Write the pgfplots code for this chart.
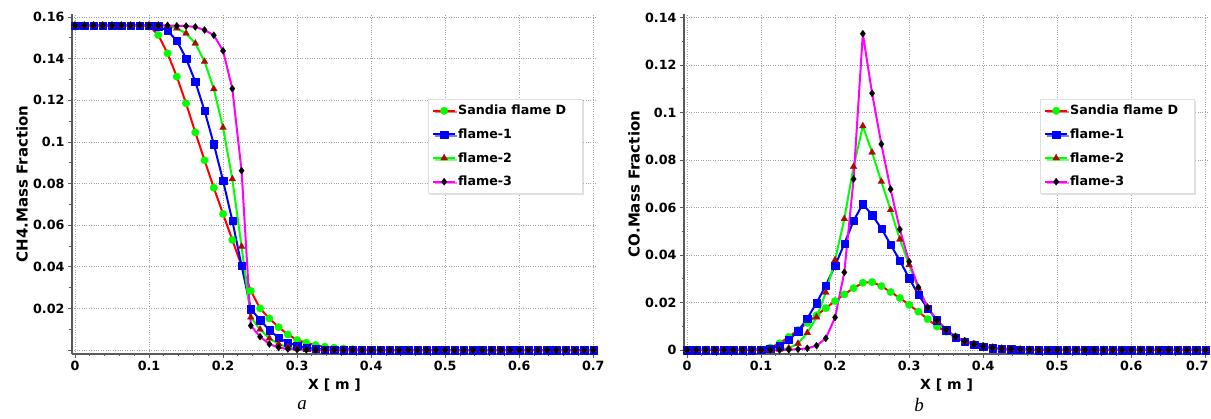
\documentclass[border=0pt]{standalone}
\usepackage{fontspec}
\setmainfont{DejaVu Sans}
\newfontfamily\capfont{Liberation Serif}
\usepackage{pgfplots}
\pgfplotsset{compat=1.18}
\usepackage{pgfplotstable}
\usetikzlibrary{shadows}

\definecolor{axgray}{RGB}{90,90,90}
\definecolor{gridgray}{RGB}{160,160,160}
\definecolor{cred}{RGB}{255,0,0}
\definecolor{cgreen}{RGB}{0,255,0}
\definecolor{cblue}{RGB}{0,0,255}
\definecolor{cmag}{RGB}{255,0,255}
\definecolor{ctri}{RGB}{170,10,10}

% CH4 mass fraction along the axis
\pgfplotstableread{
x      S       F1      F2      F3
0      0.156   0.156   0.156   0.156
0.0125 0.156   0.156   0.156   0.156
0.025  0.156   0.156   0.156   0.156
0.0375 0.156   0.156   0.156   0.156
0.05   0.156   0.156   0.156   0.156
0.0625 0.156   0.156   0.156   0.156
0.075  0.156   0.156   0.156   0.156
0.0875 0.156   0.156   0.156   0.156
0.1    0.156   0.156   0.156   0.156
0.1125 0.1514  0.1556  0.156   0.156
0.125  0.1426  0.1534  0.1558  0.156
0.1375 0.1314  0.1487  0.1546  0.1558
0.15   0.1186  0.1402  0.1522  0.1557
0.1625 0.1046  0.1290  0.1474  0.1553
0.175  0.0912  0.1150  0.1386  0.1538
0.1875 0.0780  0.0990  0.1255  0.1513
0.2    0.0654  0.0814  0.1069  0.1438
0.2125 0.0529  0.0622  0.0822  0.1256
0.225  0.0405  0.0405  0.0497  0.0862
0.2375 0.0284  0.0197  0.0157  0.0117
0.25   0.0200  0.0144  0.0099  0.0064
0.2625 0.0152  0.0096  0.0056  0.0029
0.275  0.0110  0.0059  0.0029  0.0012
0.2875 0.0075  0.0035  0.0014  0.0005
0.3    0.0048  0.0021  0.0007  0.0002
0.3125 0.0035  0.0011  0.0003  0.0001
0.325  0.0024  0.0006  0.0001  0
0.3375 0.0016  0.0003  0       0
0.35   0.0011  0.0001  0       0
0.3625 0.0007  0       0       0
0.375  0.0004  0       0       0
0.3875 0.0002  0       0       0
0.4    0.0001  0       0       0
0.4125 0       0       0       0
0.425  0       0       0       0
0.4375 0       0       0       0
0.45   0       0       0       0
0.4625 0       0       0       0
0.475  0       0       0       0
0.4875 0       0       0       0
0.5    0       0       0       0
0.5125 0       0       0       0
0.525  0       0       0       0
0.5375 0       0       0       0
0.55   0       0       0       0
0.5625 0       0       0       0
0.575  0       0       0       0
0.5875 0       0       0       0
0.6    0       0       0       0
0.6125 0       0       0       0
0.625  0       0       0       0
0.6375 0       0       0       0
0.65   0       0       0       0
0.6625 0       0       0       0
0.675  0       0       0       0
0.6875 0       0       0       0
0.7    0       0       0       0
}\chfour

% CO mass fraction along the axis
\pgfplotstableread{
x      S       F1      F2      F3
0      0       0       0       0
0.0125 0       0       0       0
0.025  0       0       0       0
0.0375 0       0       0       0
0.05   0       0       0       0
0.0625 0       0       0       0
0.075  0       0       0       0
0.0875 0       0       0       0
0.1    0.0002  0.0002  0       0
0.1125 0.0010  0.0006  0       0
0.125  0.0028  0.0016  0.0002  0
0.1375 0.0055  0.0043  0.0008  0.0001
0.15   0.0084  0.0079  0.0027  0.0003
0.1625 0.0114  0.0133  0.0072  0.0007
0.175  0.0146  0.0198  0.0138  0.0018
0.1875 0.0176  0.0272  0.0242  0.0049
0.2    0.0206  0.0355  0.0379  0.0137
0.2125 0.0234  0.0447  0.0552  0.0327
0.225  0.0260  0.0544  0.0772  0.0720
0.2375 0.0283  0.0615  0.0943  0.1332
0.25   0.0286  0.0568  0.0832  0.1081
0.2625 0.0269  0.0512  0.0709  0.0867
0.275  0.0244  0.0444  0.0590  0.0677
0.2875 0.0219  0.0376  0.0466  0.0508
0.3    0.0190  0.0302  0.0358  0.0372
0.3125 0.0161  0.0233  0.0260  0.0264
0.325  0.0130  0.0175  0.0180  0.0178
0.3375 0.0099  0.0125  0.0121  0.0126
0.35   0.0077  0.0084  0.0082  0.0086
0.3625 0.0056  0.0053  0.0056  0.0056
0.375  0.0037  0.0036  0.0036  0.0038
0.3875 0.0025  0.0023  0.0025  0.0023
0.4    0.0016  0.0014  0.0016  0.0015
0.4125 0.0010  0.0008  0.0010  0.0009
0.425  0.0006  0.0005  0.0006  0.0005
0.4375 0.0004  0.0003  0.0004  0.0003
0.45   0.0002  0.0002  0.0002  0.0002
0.4625 0.0001  0.0001  0.0001  0.0001
0.475  0       0       0       0
0.4875 0       0       0       0
0.5    0       0       0       0
0.5125 0       0       0       0
0.525  0       0       0       0
0.5375 0       0       0       0
0.55   0       0       0       0
0.5625 0       0       0       0
0.575  0       0       0       0
0.5875 0       0       0       0
0.6    0       0       0       0
0.6125 0       0       0       0
0.625  0       0       0       0
0.6375 0       0       0       0
0.65   0       0       0       0
0.6625 0       0       0       0
0.675  0       0       0       0
0.6875 0       0       0       0
0.7    0       0       0       0
}\co

\pgfplotsset{
  flamebase/.style={
    scale only axis, width=525pt, height=340pt,
    xmin=-0.004, xmax=0.705,
    axis x line*=bottom, axis y line*=left,
    axis line style={axgray, line width=1.2pt},
    tick style={axgray, line width=0.9pt},
    tick align=outside,
    major tick length=4pt, minor tick length=2.5pt,
    xtick={0,0.1,0.2,0.3,0.4,0.5,0.6,0.7},
    minor x tick num=4, minor y tick num=1,
    grid=major,
    grid style={gridgray, dotted, line width=0.7pt},
    ticklabel style={font=\fontsize{12.7}{14}\selectfont\bfseries},
    xlabel={X [ m ]},
    xlabel style={font=\fontsize{14}{16}\selectfont\bfseries,
      at={(axis description cs:0.5,-0.091)}, anchor=center},
    ylabel style={font=\fontsize{15}{17}\selectfont\bfseries,
      at={(axis description cs:-0.095,0.5)}, anchor=center},
    legend cell align=left,
    legend style={at={(axis description cs:0.678,0.75)}, anchor=north west,
      font=\fontsize{12.7}{14}\selectfont\bfseries,
      fill=white, draw=black!12,
      drop shadow={shadow xshift=1.5pt, shadow yshift=-1.5pt, fill=black!25},
      inner xsep=4pt, inner ysep=4pt, row sep=8.5pt},
    legend image code/.code={
      \draw[mark repeat=2,mark phase=2,##1]
        plot coordinates {(0pt,0pt) (11pt,0pt) (22pt,0pt)};},
  },
  sandia/.style={cred, line width=2pt, line join=round, mark=*, mark size=3.8pt,
    mark options={solid, fill=cgreen, draw=cgreen, line width=0.2pt}},
  fone/.style={cblue, line width=2pt, line join=round, mark=square*, mark size=3.7pt,
    mark options={solid, fill=cblue, draw=cblue, line width=0.2pt}},
  ftwo/.style={cgreen, line width=2pt, line join=round, mark=triangle*, mark size=4pt,
    mark options={solid, fill=ctri, draw=ctri, line width=0.2pt}},
  fthree/.style={cmag, line width=2pt, line join=round, mark=diamond*, mark size=3.6pt,
    mark options={solid, fill=black, draw=black, line width=0.2pt}},
}

\begin{document}
\begin{tikzpicture}
\useasboundingbox (0,0) rectangle (1211pt,419pt);

% (a) CH4
\begin{axis}[flamebase, at={(72pt,65pt)}, anchor=south west,
  ymin=-0.0019, ymax=0.1615,
  xticklabels={0,0.1,0.2,0.3,0.4,0.5,0.6,0.7},
  ytick={0,0.02,0.04,0.06,0.08,0.1,0.12,0.14,0.16},
  yticklabels={,0.02,0.04,0.06,0.08,0.1,0.12,0.14,0.16},
  ylabel={CH4.Mass Fraction}]
\addplot[sandia] table[x=x,y=S]{\chfour};
\addlegendentry{Sandia flame D\hspace*{10pt}}
\addplot[fone] table[x=x,y=F1]{\chfour};
\addlegendentry{flame-1}
\addplot[ftwo] table[x=x,y=F2]{\chfour};
\addlegendentry{flame-2}
\addplot[fthree] table[x=x,y=F3]{\chfour};
\addlegendentry{flame-3}
\end{axis}

% (b) CO
\begin{axis}[flamebase, at={(684pt,65pt)}, anchor=south west,
  ymin=-0.0017, ymax=0.1415,
  xticklabels={0,0.1,0.2,0.3,0.4,0.5,0.6,\hspace*{-16pt}0.7},
  ytick={0,0.02,0.04,0.06,0.08,0.1,0.12,0.14},
  yticklabels={0,0.02,0.04,0.06,0.08,0.1,0.12,0.14},
  ylabel={CO.Mass Fraction}]
\addplot[sandia] table[x=x,y=S]{\co};
\addlegendentry{Sandia flame D\hspace*{10pt}}
\addplot[fone] table[x=x,y=F1]{\co};
\addlegendentry{flame-1}
\addplot[ftwo] table[x=x,y=F2]{\co};
\addlegendentry{flame-2}
\addplot[fthree] table[x=x,y=F3]{\co};
\addlegendentry{flame-3}
\end{axis}

\node[font=\capfont\itshape\fontsize{19}{21}\selectfont] at (302pt,14pt) {a};
\node[font=\capfont\itshape\fontsize{19}{21}\selectfont] at (919pt,14pt) {b};
\end{tikzpicture}
\end{document}
